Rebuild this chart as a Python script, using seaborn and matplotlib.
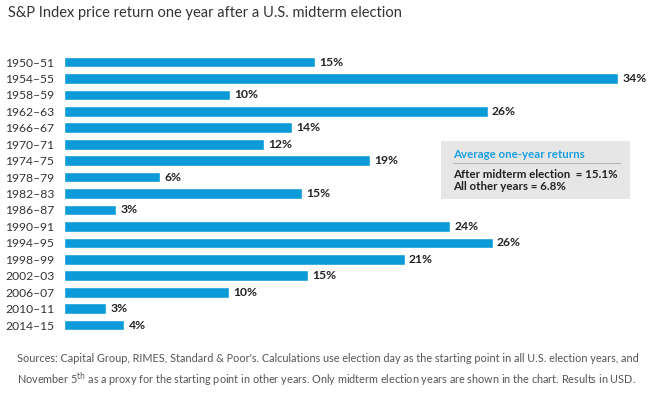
import matplotlib
matplotlib.use("Agg")
import matplotlib.pyplot as plt
import seaborn as sns
import pandas as pd

# data
periods = ["1950–51", "1954–55", "1958–59", "1962–63", "1966–67", "1970–71",
           "1974–75", "1978–79", "1982–83", "1986–87", "1990–91", "1994–95",
           "1998–99", "2002–03", "2006–07", "2010–11", "2014–15"]
returns = [15.4, 34.0, 10.2, 26.0, 14.0, 12.3, 18.8, 5.9, 14.6, 3.2,
           23.7, 26.3, 20.9, 15.0, 10.1, 2.6, 3.7]
labels = ["15%", "34%", "10%", "26%", "14%", "12%", "19%", "6%", "15%", "3%",
          "24%", "26%", "21%", "15%", "10%", "3%", "4%"]

avg_title = "Average one-year returns"
avg_lines = ["After midterm election  = 15.1%", "All other years = 6.8%"]

bar_color = "#0a9bd8"

sns.set_style("white")
plt.rcParams["font.family"] = ["Lato", "DejaVu Sans"]

df = pd.DataFrame({"period": periods, "ret": returns})

fig = plt.figure(figsize=(6.69, 3.93), dpi=100)
ax = fig.add_axes([0.0957, 0.152, 0.877, 0.711])

sns.barplot(data=df, x="ret", y="period", color=bar_color, width=0.65,
            saturation=1, ax=ax)
ax.bar_label(ax.containers[0], labels=labels, padding=3, fontsize=8.7,
             fontweight="bold", color="#222222")

ax.set_xlim(0, 36)
ax.set_xlabel("")
ax.set_ylabel("")
ax.set_xticks([])
ax.tick_params(axis="y", length=0, pad=7, labelsize=8.7, labelcolor="#333333")
sns.despine(ax=ax, left=True, bottom=True)

# title
fig.text(0.012, 0.967, "S&P Index price return one year after a U.S. midterm election",
         fontsize=10.5, color="#333333", va="center", ha="left")

# average returns box
box = plt.Rectangle((441 / 669, 1 - 199 / 393), (630 - 441) / 669, (199 - 141) / 393,
                    transform=fig.transFigure, facecolor="#e6e6e6", edgecolor="none",
                    zorder=0)
fig.patches.append(box)
fig.text(453 / 669, 1 - 154 / 393, avg_title, fontsize=8.3, fontweight="bold",
         color="#1a9fe0", va="center")
fig.add_artist(plt.Line2D([453 / 669, 620 / 669], [1 - 163 / 393, 1 - 163 / 393],
                          transform=fig.transFigure, color="#b8b8b8", lw=0.8))
fig.text(453 / 669, 1 - 174 / 393, avg_lines[0], fontsize=8.3, fontweight="bold",
         color="#222222", va="center")
fig.text(453 / 669, 1 - 187 / 393, avg_lines[1], fontsize=8.3, fontweight="bold",
         color="#222222", va="center")

# footnote
fig.text(17 / 669, 1 - 359 / 393,
         "Sources: Capital Group, RIMES, Standard & Poor's. Calculations use election day as the "
         "starting point in all U.S. election years, and",
         fontsize=7.8, color="#555555", va="center")
fig.text(17 / 669, 1 - 380 / 393,
         r"November 5$^{\mathrm{th}}$ as a proxy for the starting point in other years. "
         "Only midterm election years are shown in the chart. Results in USD.",
         fontsize=7.8, color="#555555", va="center")

fig.savefig("out.png", dpi=100)
